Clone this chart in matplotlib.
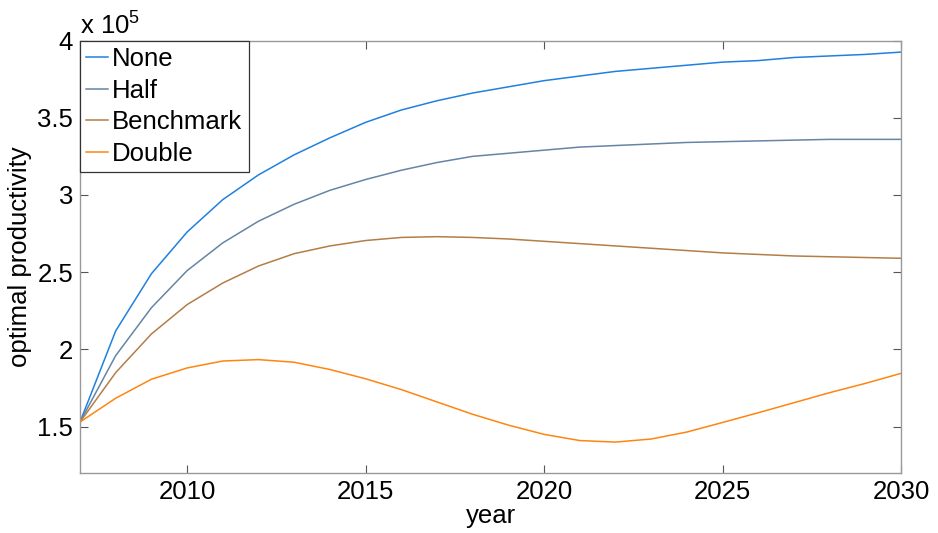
import matplotlib as mpl
mpl.use("Agg")
import numpy as np
import matplotlib.pyplot as plt

mpl.rcParams.update({
    'font.family': ['Liberation Sans', 'DejaVu Sans'],
    'font.size': 18.5,
    'mathtext.fontset': 'custom',
    'mathtext.rm': 'Liberation Sans',
    'axes.linewidth': 1.0,
    'xtick.direction': 'in',
    'ytick.direction': 'in',
    'xtick.top': True,
    'ytick.right': True,
    'xtick.major.size': 6,
    'ytick.major.size': 6,
})

# values in units of 1e5
years = list(range(2007, 2031))
none = [1.53, 2.12, 2.49, 2.76, 2.97, 3.13, 3.26, 3.37, 3.47, 3.55, 3.61, 3.66,
        3.70, 3.74, 3.77, 3.80, 3.82, 3.84, 3.86, 3.87, 3.89, 3.90, 3.91, 3.925]
half = [1.53, 1.96, 2.27, 2.51, 2.69, 2.83, 2.94, 3.03, 3.10, 3.16, 3.21, 3.25,
        3.27, 3.29, 3.31, 3.32, 3.33, 3.34, 3.345, 3.35, 3.355, 3.36, 3.36, 3.36]
benchmark = [1.53, 1.85, 2.10, 2.29, 2.43, 2.54, 2.62, 2.67, 2.705, 2.725, 2.73, 2.725,
             2.715, 2.70, 2.685, 2.67, 2.655, 2.64, 2.625, 2.615, 2.605, 2.60, 2.595, 2.59]
double = [1.53, 1.684, 1.807, 1.88, 1.925, 1.934, 1.917, 1.87, 1.81, 1.74, 1.66, 1.58,
          1.51, 1.45, 1.41, 1.40, 1.42, 1.465, 1.527, 1.59, 1.655, 1.72, 1.78, 1.845]

series = [
    ("None", none, "#2080e0"),
    ("Half", half, "#6585a5"),
    ("Benchmark", benchmark, "#b47d48"),
    ("Double", double, "#ff8510"),
]

xticks = [2010, 2015, 2020, 2025, 2030]
yticks = [1.5, 2, 2.5, 3, 3.5, 4]
ytick_labels = ["1.5", "2", "2.5", "3", "3.5", "4"]

fig = plt.figure(figsize=(9.38, 5.33), dpi=100)
ax = fig.add_axes([0.0853, 0.1126, 0.8753, 0.8114])

for name, vals, col in series:
    ax.plot(years, vals, color=col, linewidth=1.1, label=name)

ax.set_xlim(2007, 2030)
ax.set_ylim(1.2, 4.0)
ax.set_xticks(xticks)
ax.set_yticks(yticks)
ax.set_yticklabels(ytick_labels)
ax.tick_params(axis='both', colors='#555555', labelcolor='black', pad=5)

for sp in ax.spines.values():
    sp.set_color('#999999')

ax.set_xlabel("year", labelpad=0)
ax.set_ylabel("optimal productivity", labelpad=4)

ax.text(0.0, 1.005, r"x 10$^5$", transform=ax.transAxes,
        ha="left", va="bottom")

leg = ax.legend(loc="upper left", bbox_to_anchor=(0, 1), borderaxespad=0,
                handlelength=0.85, handletextpad=0.15, labelspacing=0.3,
                borderpad=0.25, fancybox=False, framealpha=1,
                edgecolor='#333333')
leg.get_frame().set_linewidth(0.9)

fig.savefig("out.png", dpi=100)
